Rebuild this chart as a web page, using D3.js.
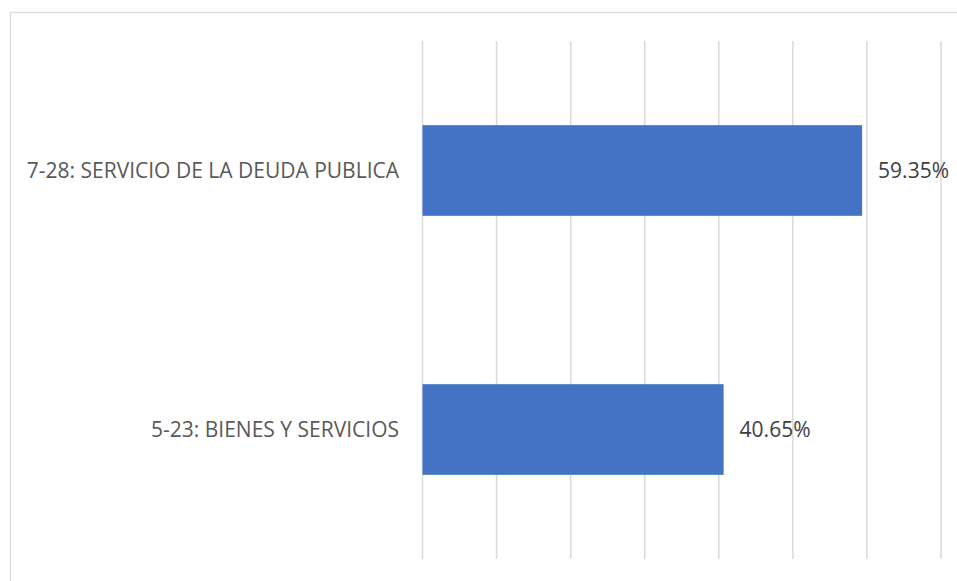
<!DOCTYPE html>
<html>
<head>
<meta charset="utf-8">
<script src="https://cdn.jsdelivr.net/npm/d3@7"></script>
<style>
  html, body { margin: 0; padding: 0; background: #ffffff; }
  svg { display: block; }
</style>
</head>
<body>
<svg id="chart" width="957" height="581"></svg>
<script>
// Budget share by line item
const categories = ["7-28: SERVICIO DE LA DEUDA PUBLICA", "5-23: BIENES Y SERVICIOS"];
const values = [0.5935, 0.4065];
const valueLabels = ["59.35%", "40.65%"];
const gridTicks = [0, 0.1, 0.2, 0.3, 0.4, 0.5, 0.6, 0.7];

const svg = d3.select("#chart");
const W = 957, H = 581;
const fontFamily = "'Open Sans', 'Noto Sans', sans-serif";

// chart frame (open on the right and bottom edges of the page)
svg.append("rect")
  .attr("x", 10.5).attr("y", 12.5)
  .attr("width", W + 20).attr("height", H + 20)
  .attr("fill", "#ffffff")
  .attr("stroke", "#d9d9d9").attr("stroke-width", 1.3);

const plot = { left: 422.5, right: 941, top: 41, bottom: 559 };

const x = d3.scaleLinear().domain([0, 0.7]).range([plot.left, plot.right]);
const y = d3.scaleBand().domain(categories)
  .range([plot.top, plot.bottom])
  .paddingInner(0.65).paddingOuter(0.325);

// vertical gridlines
svg.append("g")
  .selectAll("line")
  .data(gridTicks)
  .join("line")
  .attr("x1", d => x(d)).attr("x2", d => x(d))
  .attr("y1", plot.top).attr("y2", plot.bottom)
  .attr("stroke", "#d9d9d9").attr("stroke-width", 1.5);

// bars
svg.append("g")
  .selectAll("rect")
  .data(categories)
  .join("rect")
  .attr("x", x(0))
  .attr("y", d => y(d))
  .attr("width", (d, i) => x(values[i]) - x(0))
  .attr("height", y.bandwidth())
  .attr("fill", "#4472c4");

// category labels
svg.append("g")
  .selectAll("text")
  .data(categories)
  .join("text")
  .attr("x", 399)
  .attr("y", d => y(d) + y.bandwidth() / 2)
  .attr("dy", "0.35em")
  .attr("text-anchor", "end")
  .attr("font-family", fontFamily)
  .attr("font-size", 21)
  .attr("fill", "#595959")
  .text(d => d);

// value labels
svg.append("g")
  .selectAll("text")
  .data(categories)
  .join("text")
  .attr("x", (d, i) => x(values[i]) + 16)
  .attr("y", d => y(d) + y.bandwidth() / 2)
  .attr("dy", "0.35em")
  .attr("font-family", fontFamily)
  .attr("font-size", 21)
  .attr("fill", "#404040")
  .text((d, i) => valueLabels[i]);
</script>
</body>
</html>
